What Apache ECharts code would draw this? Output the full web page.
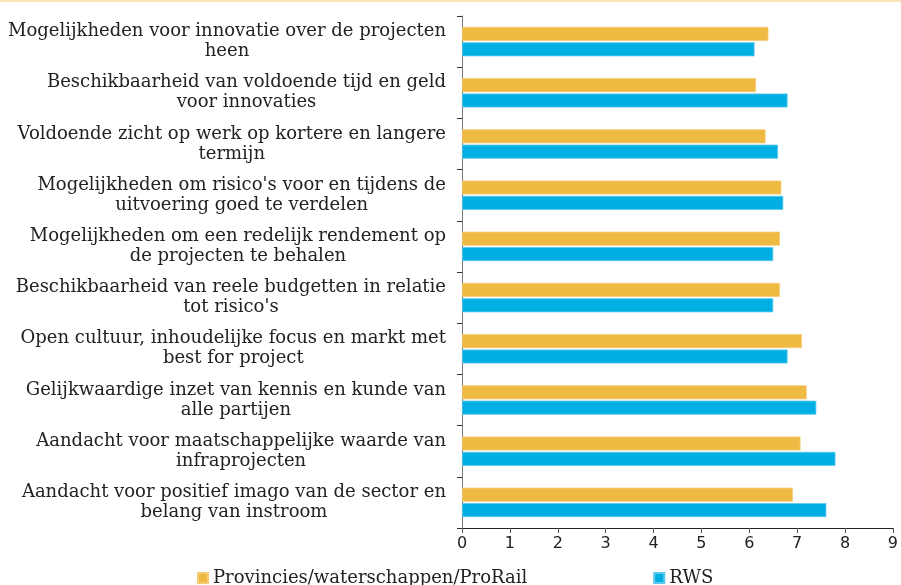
<!DOCTYPE html>
<html>
<head>
<meta charset="utf-8">
<script src="https://cdn.jsdelivr.net/npm/echarts@6/dist/echarts.min.js"></script>
<style>
html,body{margin:0;padding:0;background:#fff;}
#top{position:absolute;left:0;top:0;width:901px;height:2px;background:#FBE3B5;}
#c{width:901px;height:585px;}
</style>
</head>
<body>
<div id="c"></div>
<div id="top"></div>
<script>
const categories = [
  "Mogelijkheden voor innovatie over de projecten\nheen",
  "Beschikbaarheid van voldoende tijd en geld\nvoor innovaties",
  "Voldoende zicht op werk op kortere en langere\ntermijn",
  "Mogelijkheden om risico's voor en tijdens de\nuitvoering goed te verdelen",
  "Mogelijkheden om een redelijk rendement op\nde projecten te behalen",
  "Beschikbaarheid van reele budgetten in relatie\ntot risico's",
  "Open cultuur, inhoudelijke focus en markt met\nbest for project",
  "Gelijkwaardige inzet van kennis en kunde van\nalle partijen",
  "Aandacht voor maatschappelijke waarde van\ninfraprojecten",
  "Aandacht voor positief imago van de sector en\nbelang van instroom"
];
const seriesNames = ["Provincies/waterschappen/ProRail", "RWS"];
const provincies = [6.40, 6.14, 6.34, 6.67, 6.64, 6.64, 7.10, 7.20, 7.07, 6.91];
const rws = [6.11, 6.80, 6.60, 6.71, 6.50, 6.50, 6.80, 7.40, 7.80, 7.61];
const xTicks = [0, 1, 2, 3, 4, 5, 6, 7, 8, 9];

const serif = "'DejaVu Serif'";
const chart = echarts.init(document.getElementById('c'));
chart.setOption({
  animation: false,
  grid: {left: 462, right: 3, top: 16, bottom: 57, containLabel: false},
  legend: {
    data: seriesNames,
    left: 192, top: 564,
    icon: 'rect', itemWidth: 10, itemHeight: 10, itemGap: 126,
    textStyle: {fontFamily: serif, fontSize: 18, color: '#222'}
  },
  xAxis: {
    type: 'value', min: xTicks[0], max: xTicks[xTicks.length - 1], interval: 1,
    splitLine: {show: false},
    axisLine: {show: true, lineStyle: {color: '#222', width: 1}},
    axisTick: {show: true, length: 5, lineStyle: {color: '#555'}},
    axisLabel: {fontFamily: "'DejaVu Sans'", fontSize: 16, color: '#222', margin: 8}
  },
  yAxis: {
    type: 'category', data: categories, inverse: true,
    axisLine: {show: true, lineStyle: {color: '#777', width: 1}},
    axisTick: {show: true, length: 5, lineStyle: {color: '#333'}},
    axisLabel: {
      margin: 16, color: '#222', fontFamily: serif, fontSize: 18, lineHeight: 20,
      formatter: v => v.split('\n').map(l => '{c|' + l + '}').join('\n'),
      rich: {c: {align: 'center', fontFamily: serif, fontSize: 18, lineHeight: 20, color: '#222'}}
    }
  },
  series: [
    {name: seriesNames[0], type: 'bar', data: provincies, barWidth: 14, barGap: '10%',
     itemStyle: {color: '#EFBA42', borderColor: '#F4CC76', borderWidth: 0.8}},
    {name: seriesNames[1], type: 'bar', data: rws, barWidth: 14, barGap: '10%',
     itemStyle: {color: '#00B0E4', borderColor: '#5CC8EE', borderWidth: 0.8}}
  ]
});
</script>
</body>
</html>
